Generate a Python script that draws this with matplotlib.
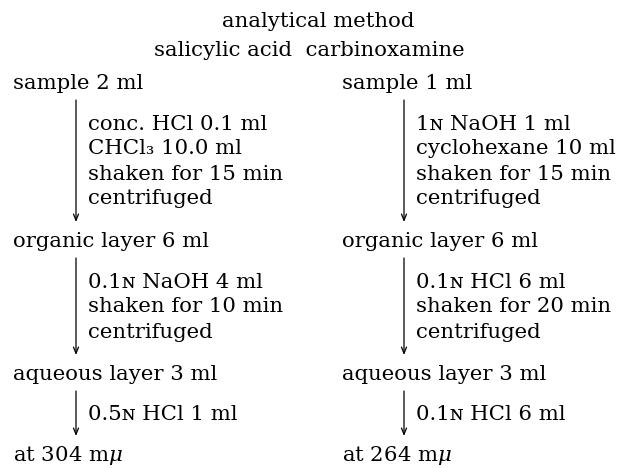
#!/usr/bin/env python3
# -*- coding: utf-8 -*-

import matplotlib.pyplot as plt

# flow chart text
title = "analytical method"
drug_names = "salicylic acid  carbinoxamine"

salicylic_stages = ["sample 2 ml", "organic layer 6 ml", "aqueous layer 3 ml", "at 304 m$\\mu$"]
salicylic_steps = [
    ["conc. HCl 0.1 ml", "CHCl₃ 10.0 ml", "shaken for 15 min", "centrifuged"],
    ["0.1ɴ NaOH 4 ml", "shaken for 10 min", "centrifuged"],
    ["0.5ɴ HCl 1 ml"],
]

carbinoxamine_stages = ["sample 1 ml", "organic layer 6 ml", "aqueous layer 3 ml", "at 264 m$\\mu$"]
carbinoxamine_steps = [
    ["1ɴ NaOH 1 ml", "cyclohexane 10 ml", "shaken for 15 min", "centrifuged"],
    ["0.1ɴ HCl 6 ml", "shaken for 20 min", "centrifuged"],
    ["0.1ɴ HCl 6 ml"],
]

# layout (pixels, y measured from the top)
W, H = 618, 468
stage_y = [89, 247, 380, 461]
columns = [(13, 76), (342, 404)]   # (label x, arrow x)
arrow_gap_top = 11
arrow_gap_bottom = 25
line_step = 25
fs = 15.3

plt.rcParams['font.family'] = ['DejaVu Serif', 'DejaVu Sans']
plt.rcParams['mathtext.fontset'] = 'dejavuserif'

fig = plt.figure(figsize=(W / 100, H / 100), dpi=100)
ax = fig.add_axes([0, 0, 1, 1])
ax.set_xlim(0, W)
ax.set_ylim(H, 0)
ax.axis('off')

ax.text(318, 27, title, fontsize=fs, ha='center', va='baseline')
ax.text(309, 56, drug_names, fontsize=fs, ha='center', va='baseline')

for (lx, axx), stages, steps in zip(columns,
                                    [salicylic_stages, carbinoxamine_stages],
                                    [salicylic_steps, carbinoxamine_steps]):
    for y, s in zip(stage_y, stages):
        ax.text(lx, y, s, fontsize=fs, ha='left', va='baseline')
    for i, lines in enumerate(steps):
        y0 = stage_y[i] + arrow_gap_top
        y1 = min(stage_y[i + 1] - arrow_gap_bottom, 437)
        ax.annotate('', xy=(axx, y1), xytext=(axx, y0),
                    arrowprops=dict(arrowstyle='->,head_length=0.45,head_width=0.18',
                                    lw=0.9, color='black', shrinkA=0, shrinkB=0))
        mid = (y0 + y1) / 2 + 6
        n = len(lines)
        for j, t in enumerate(lines):
            ax.text(axx + 12, mid + (j - (n - 1) / 2) * line_step, t,
                    fontsize=fs, ha='left', va='baseline')

fig.savefig('out.png', dpi=100, facecolor='white')
